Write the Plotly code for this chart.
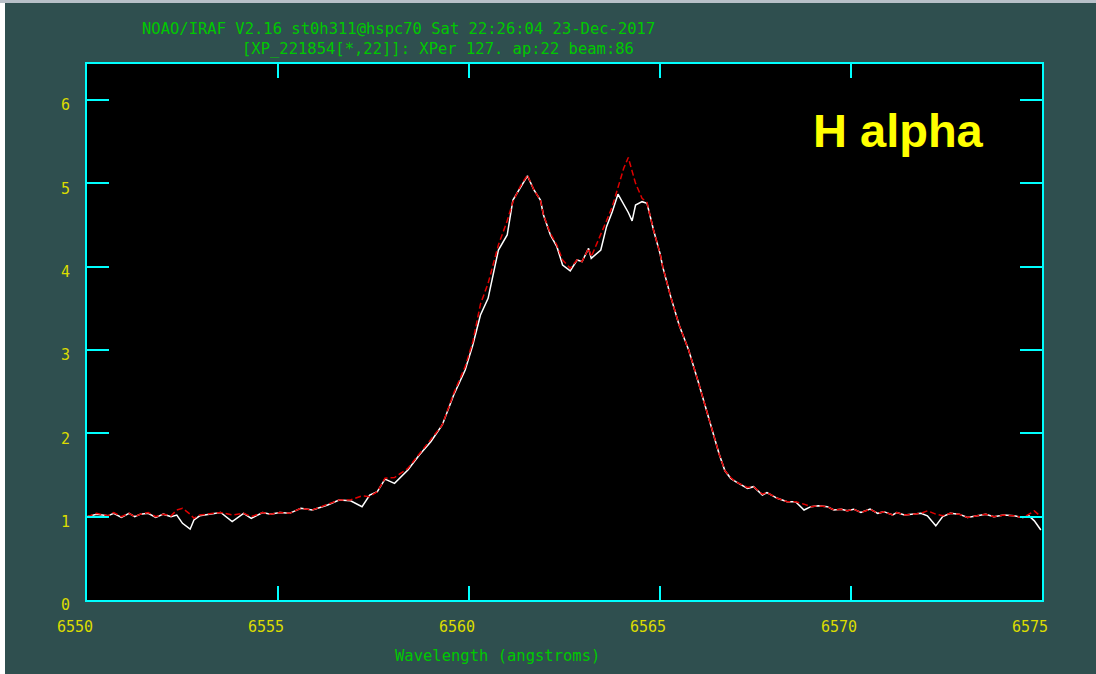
import plotly.graph_objects as go

wavelength = [
    6550.0, 6550.25, 6550.55, 6550.7, 6550.9, 6551.1, 6551.25, 6551.4, 6551.6, 6551.8,
    6552.0, 6552.2, 6552.35, 6552.5, 6552.7, 6552.8, 6552.95, 6553.2, 6553.5, 6553.8,
    6554.1, 6554.3, 6554.6, 6554.8, 6555.05, 6555.3, 6555.6, 6555.9, 6556.3, 6556.6,
    6556.9, 6557.2, 6557.4, 6557.6, 6557.8, 6558.05, 6558.4, 6558.7, 6559.0, 6559.3,
    6559.6, 6559.9, 6560.1, 6560.3, 6560.5, 6560.77, 6561.0, 6561.15, 6561.35, 6561.53,
    6561.7, 6561.87, 6561.95, 6562.13, 6562.3, 6562.45, 6562.65, 6562.83, 6562.96, 6563.13,
    6563.2, 6563.45, 6563.6, 6563.75, 6563.9, 6564.05, 6564.17, 6564.27, 6564.36, 6564.53,
    6564.66, 6564.83, 6565.0, 6565.07, 6565.28, 6565.5, 6565.75, 6566.0, 6566.2, 6566.38,
    6566.55, 6566.7, 6566.85, 6566.98, 6567.15, 6567.29, 6567.45, 6567.68, 6567.8, 6568.07,
    6568.33, 6568.55, 6568.77, 6568.95, 6569.15, 6569.38, 6569.55, 6569.75, 6569.9, 6570.07,
    6570.26, 6570.5, 6570.7, 6570.86, 6571.09, 6571.2, 6571.4, 6571.6, 6571.83, 6572.0,
    6572.22, 6572.4, 6572.6, 6572.83, 6573.05, 6573.3, 6573.53, 6573.74, 6574.0, 6574.27,
    6574.5, 6574.66, 6574.8, 6574.97,
]

flux_white = [
    1.00, 1.03, 1.01, 1.04, 0.99, 1.04, 1.00, 1.03, 1.04, 0.99,
    1.03, 1.00, 1.02, 0.92, 0.85, 0.96, 1.01, 1.03, 1.05, 0.94,
    1.04, 0.98, 1.05, 1.03, 1.05, 1.04, 1.10, 1.08, 1.14, 1.20,
    1.19, 1.12, 1.26, 1.30, 1.45, 1.40, 1.56, 1.74, 1.90, 2.10,
    2.46, 2.76, 3.06, 3.42, 3.62, 4.20, 4.38, 4.80, 4.96, 5.09,
    4.92, 4.80, 4.62, 4.38, 4.24, 4.02, 3.95, 4.08, 4.06, 4.22,
    4.10, 4.20, 4.48, 4.66, 4.87, 4.75, 4.65, 4.55, 4.74, 4.78,
    4.76, 4.44, 4.16, 4.00, 3.64, 3.30, 3.00, 2.62, 2.30, 2.00,
    1.75, 1.55, 1.46, 1.42, 1.38, 1.34, 1.36, 1.26, 1.29, 1.22,
    1.18, 1.18, 1.08, 1.12, 1.13, 1.12, 1.08, 1.09, 1.07, 1.09,
    1.05, 1.09, 1.04, 1.06, 1.02, 1.05, 1.02, 1.03, 1.04, 1.01,
    0.89, 1.00, 1.04, 1.03, 0.99, 1.01, 1.03, 1.00, 1.02, 1.01,
    0.99, 1.01, 0.95, 0.84,
]

flux_red = [
    1.00, 1.04, 1.01, 1.05, 1.00, 1.04, 1.00, 1.03, 1.05, 1.00,
    1.03, 1.01, 1.08, 1.10, 1.03, 0.98, 1.02, 1.03, 1.05, 1.02,
    1.04, 1.00, 1.05, 1.03, 1.05, 1.04, 1.10, 1.08, 1.15, 1.20,
    1.20, 1.25, 1.24, 1.30, 1.46, 1.47, 1.58, 1.75, 1.92, 2.10,
    2.48, 2.80, 3.10, 3.55, 3.80, 4.26, 4.55, 4.78, 4.97, 5.10,
    4.92, 4.80, 4.62, 4.40, 4.26, 4.08, 3.98, 4.08, 4.06, 4.22,
    4.12, 4.38, 4.55, 4.72, 4.95, 5.18, 5.31, 5.15, 5.00, 4.82,
    4.77, 4.44, 4.16, 4.00, 3.64, 3.30, 3.00, 2.62, 2.30, 2.00,
    1.75, 1.55, 1.47, 1.42, 1.38, 1.35, 1.36, 1.27, 1.29, 1.22,
    1.18, 1.18, 1.15, 1.12, 1.13, 1.12, 1.08, 1.09, 1.07, 1.09,
    1.05, 1.09, 1.04, 1.06, 1.02, 1.05, 1.02, 1.03, 1.04, 1.07,
    1.03, 1.01, 1.04, 1.03, 0.99, 1.01, 1.03, 1.00, 1.02, 1.01,
    0.99, 1.03, 1.07, 1.00,
]

x_ticks = [6550, 6555, 6560, 6565, 6570, 6575]
y_ticks = [0, 1, 2, 3, 4, 5, 6]

title_line1 = "NOAO/IRAF V2.16 st0h311@hspc70 Sat 22:26:04 23-Dec-2017"
title_line2 = "[XP_221854[*,22]]: XPer 127. ap:22 beam:86"
x_title = "Wavelength (angstroms)"
label_text = "H alpha"

W, H = 1096, 674
L, R, T, B = 87, 1042, 64, 600
pw, ph = R - L, B - T

def px(x):
    return (x - L) / pw

def py(y):
    return (B - y) / ph

mono = "DejaVu Sans Mono"
green = "#00c800"
yellow = "#dcdc00"
cyan = "#00ffff"

fig = go.Figure()
fig.add_trace(go.Scatter(x=wavelength, y=flux_white, mode="lines",
                         line=dict(color="#ffffff", width=1.5), showlegend=False))
fig.add_trace(go.Scatter(x=wavelength, y=flux_red, mode="lines",
                         line=dict(color="#e00000", width=1.5, dash="6px,3px"), showlegend=False))

fig.update_layout(
    width=W, height=H,
    margin=dict(l=L, r=W - R, t=T, b=H - B),
    paper_bgcolor="#2f4f4f",
    plot_bgcolor="#000000",
    showlegend=False,
    xaxis=dict(range=[6550, 6575], tickvals=x_ticks, ticks="inside", ticklen=14,
               tickwidth=2, tickcolor=cyan, showline=True, linecolor=cyan, linewidth=2,
               mirror="ticks", showgrid=False, zeroline=False,
               tickfont=dict(family=mono, size=15, color=yellow),
               ticklabelshift=-12, ticklabelstandoff=12),
    yaxis=dict(range=[0, 6.432], tickvals=y_ticks, ticks="inside", ticklen=22,
               tickwidth=2, tickcolor=cyan, showline=True, linecolor=cyan, linewidth=2,
               mirror="ticks", showgrid=False, zeroline=False,
               tickfont=dict(family=mono, size=15, color=yellow),
               ticklabelshift=5, ticklabelstandoff=12),
)

annotations = [
    dict(text=title_line1, x=px(398), y=py(29), xanchor="center", yanchor="middle"),
    dict(text=title_line2, x=px(438), y=py(49), xanchor="center", yanchor="middle"),
    dict(text=x_title, x=px(497), y=py(656), xanchor="center", yanchor="middle"),
]
for a in annotations:
    fig.add_annotation(xref="paper", yref="paper", showarrow=False,
                       font=dict(family=mono, size=15.5, color=green), **a)

fig.add_annotation(xref="paper", yref="paper", showarrow=False, text="<b>" + label_text + "</b>",
                   x=px(811), y=py(130), xanchor="left", yanchor="middle",
                   font=dict(family="Liberation Sans", size=47, color="#ffff00"))

# window frame edges
fig.add_shape(type="rect", xref="paper", yref="paper", x0=px(0), x1=px(5), y0=py(H), y1=py(0),
              fillcolor="#ffffff", line=dict(width=0), layer="above")
fig.add_shape(type="rect", xref="paper", yref="paper", x0=px(0), x1=px(W), y0=py(3), y1=py(0),
              fillcolor="#b8c0c8", line=dict(width=0), layer="above")

fig.write_html("out.html")
